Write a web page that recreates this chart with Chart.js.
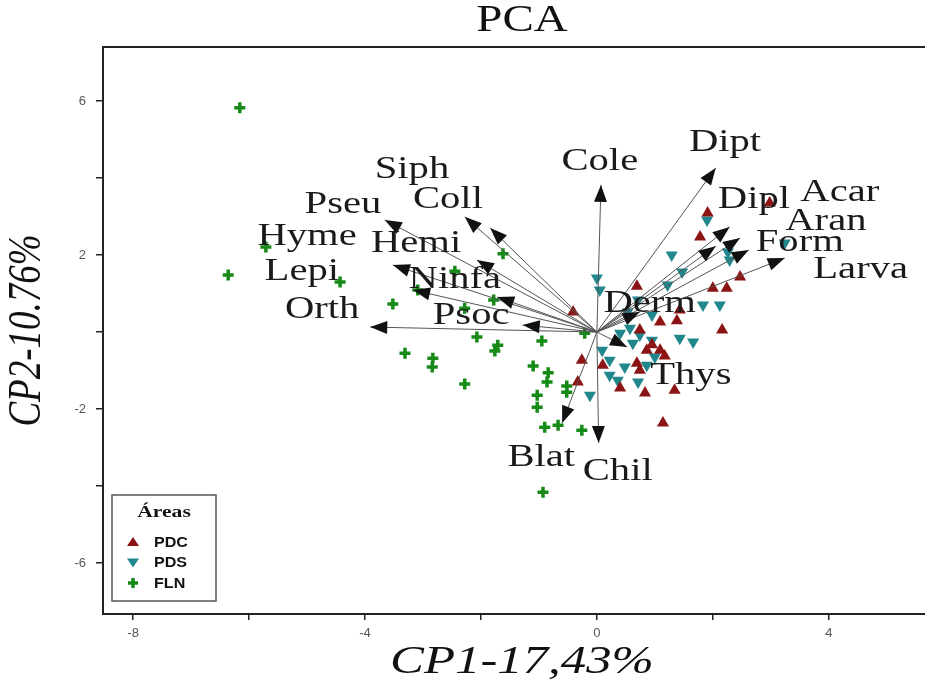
<!DOCTYPE html>
<html>
<head>
<meta charset="utf-8">
<script src="https://cdn.jsdelivr.net/npm/chart.js@4.4.1/dist/chart.umd.min.js"></script>
<style>
    html, body { margin: 0; padding: 0; background: #fff; }
</style>
</head>
<body>
<canvas id="graphique-pca" width="925" height="685"></canvas>
<script>
// Groupes (aires)
const areas = ["PDC", "PDS", "FLN"]

// Scores des échantillons
const pdcX = [-0.41, 0.69, 2.00, 2.24, 1.38, 2.16, 1.09, 0.74, 0.86, 1.09, 1.17, -0.26, 0.10, -0.33, 0.40, 0.83, 1.34, 0.69, 1.14, 2.98, 1.91, 1.78, 2.47, 1.43, 0.74, 0.95]
const pdcY = [0.52, 1.19, 1.14, 1.14, 0.29, 0.05, 0.26, 0.05, -0.47, -0.47, -0.62, -0.73, -0.86, -1.30, -1.45, -1.58, -1.51, -0.81, -2.36, 3.35, 3.09, 2.47, 1.43, 0.57, -0.99, -0.33]

const pdsX = [0.00, 0.05, 1.22, 1.83, 2.12, 0.95, 0.57, 0.40, 0.09, 0.22, 0.48, 0.62, 0.74, 0.95, 1.43, 1.66, 0.22, 0.36, 0.71, -0.12, 0.53, 1.00, 0.86, 1.90, 1.29, 1.47, 2.26, 2.29, 3.24, 0.71]
const pdsY = [1.40, 1.09, 1.22, 0.70, 0.70, 0.44, 0.10, -0.03, -0.47, -0.73, -0.91, -0.29, -0.08, -0.21, -0.16, -0.26, -1.12, -1.25, -1.30, -1.64, 0.52, -0.65, -0.86, 2.91, 2.00, 1.56, 2.08, 1.87, 2.31, 0.83]

const flnX = [-6.16, -5.71, -6.36, -4.43, -3.52, -3.31, -2.45, -1.62, -3.09, -2.28, -1.78, -2.07, -1.71, -1.76, -0.95, -2.83, -2.84, -2.28, -1.10, -0.84, -0.86, -0.52, -0.52, -1.03, -1.03, -0.21, -0.90, -0.67, -0.26, -0.93]
const flnY = [5.82, 2.21, 1.48, 1.30, 0.73, -0.55, 1.58, 2.03, 1.09, 0.62, 0.83, -0.13, -0.34, -0.49, -0.23, -0.68, -0.91, -1.35, -0.88, -1.06, -1.30, -1.40, -1.56, -1.64, -1.95, -0.03, -2.47, -2.42, -2.55, -4.16]

// Vecteurs des variables (taxons)
const variables = ["Siph", "Pseu", "Coll", "Hyme", "Hemi", "Lepi", "Ninfa", "Orth", "Psoc", "Cole", "Dipt", "Dipl", "Acar", "Aran", "Form", "Larva", "Derm", "Thys", "Blat", "Chil"]
const arrowX = [-2.28, -3.66, -1.84, -3.52, -2.07, -3.17, -1.72, -3.91, -1.28, 0.07, 2.05, 2.29, 2.47, 2.05, 2.62, 3.24, 0.74, 0.52, -0.60, 0.03]
const arrowY = [2.99, 2.91, 2.70, 1.74, 1.87, 1.09, 0.91, 0.13, 0.18, 3.82, 4.26, 2.73, 2.44, 2.23, 2.13, 1.92, 0.52, -0.39, -2.36, -2.88]
const labelX = [-3.19, -4.38, -2.57, -5.00, -3.12, -5.09, -2.45, -4.74, -2.17, 0.05, 2.21, 2.71, 4.19, 3.95, 3.50, 4.55, 0.91, 1.62, -0.96, 0.36]
const labelY = [4.21, 3.30, 3.43, 2.47, 2.29, 1.56, 1.35, 0.57, 0.42, 4.42, 4.91, 3.45, 3.61, 2.88, 2.31, 1.61, 0.73, -1.12, -3.25, -3.61]

// Ticks affichés
const xTickLabels = [-8, -4, 0, 4]
const yTickLabels = [-6, -2, 2, 6]

const colors = { PDC: "#8c1414", PDS: "#20878c", FLN: "#168a16" }
const stretch = 1.27

function pts(xs, ys) {
    return xs.map((v, i) => ({ x: v, y: ys[i] }))
}

function drawText(ctx, text, x, y, font, sx, sy, rot) {
    ctx.save()
    ctx.translate(x, y)
    if (rot) ctx.rotate(rot)
    ctx.scale(sx, sy)
    ctx.font = font
    ctx.fillText(text, 0, 0)
    ctx.restore()
}

// Flèches, étiquettes, titres et légende
const biplot = {
    id: "biplot",
    beforeDatasetsDraw(chart) {
        const { ctx, chartArea } = chart
        ctx.save()
        ctx.strokeStyle = "#222"
        ctx.lineWidth = 2
        ctx.beginPath()
        ctx.moveTo(chartArea.left - 1, chartArea.top)
        ctx.lineTo(chartArea.right, chartArea.top)
        ctx.stroke()
        ctx.restore()
    },
    afterDatasetsDraw(chart) {
        const { ctx, scales: { x, y } } = chart
        const x0 = x.getPixelForValue(0), y0 = y.getPixelForValue(0)
        ctx.save()
        ctx.fillStyle = "#111"
        variables.forEach((v, i) => {
            const px = x.getPixelForValue(arrowX[i]), py = y.getPixelForValue(arrowY[i])
            const a = Math.atan2(py - y0, px - x0)
            const len = 17, half = 6.5
            ctx.beginPath()
            ctx.moveTo(px, py)
            ctx.lineTo(px - len * Math.cos(a) + half * Math.sin(a), py - len * Math.sin(a) - half * Math.cos(a))
            ctx.lineTo(px - len * Math.cos(a) - half * Math.sin(a), py - len * Math.sin(a) + half * Math.cos(a))
            ctx.closePath()
            ctx.fill()
        })
        ctx.fillStyle = "#1a1a1a"
        ctx.textAlign = "center"
        ctx.textBaseline = "middle"
        variables.forEach((v, i) => {
            drawText(ctx, v, x.getPixelForValue(labelX[i]), y.getPixelForValue(labelY[i]),
                '32px "Liberation Serif"', stretch, 1, 0)
        })
        ctx.restore()
    },
    afterDraw(chart) {
        const { ctx, chartArea } = chart
        const cx = (chartArea.left + chartArea.right) / 2 + 8
        ctx.save()
        ctx.fillStyle = "#111"
        ctx.textAlign = "center"
        ctx.textBaseline = "middle"
        // Titre
        drawText(ctx, "PCA", cx, 21, '37px "Liberation Serif"', stretch, 1, 0)
        // Titres des axes
        drawText(ctx, "CP1-17,43%", cx, 662, 'italic 40px "Liberation Serif"', stretch, 1, 0)
        drawText(ctx, "CP2-10.76%", 28, (chartArea.top + chartArea.bottom) / 2, 'italic 37px "Liberation Serif"', 1, stretch, -Math.PI / 2)

        // Légende
        const bx = chartArea.left + 9, by = chartArea.bottom - 119, bw = 104, bh = 106
        ctx.fillStyle = "#fff"
        ctx.fillRect(bx, by, bw, bh)
        ctx.strokeStyle = "#555"
        ctx.lineWidth = 1.5
        ctx.strokeRect(bx, by, bw, bh)
        ctx.fillStyle = "#111"
        drawText(ctx, "Áreas", bx + bw / 2, by + 18, 'bold 17px "Liberation Serif"', stretch, 1, 0)
        ctx.textAlign = "left"
        areas.forEach((name, i) => {
            const sy = by + 47 + i * 20.5, sx = bx + 21
            ctx.fillStyle = colors[name]
            ctx.strokeStyle = colors[name]
            if (name === "FLN") {
                ctx.lineWidth = 3.5
                ctx.beginPath()
                ctx.moveTo(sx - 5, sy); ctx.lineTo(sx + 5, sy)
                ctx.moveTo(sx, sy - 5); ctx.lineTo(sx, sy + 5)
                ctx.stroke()
            } else {
                const d = name === "PDC" ? 1 : -1
                ctx.beginPath()
                ctx.moveTo(sx, sy - 5 * d)
                ctx.lineTo(sx + 6, sy + 4 * d)
                ctx.lineTo(sx - 6, sy + 4 * d)
                ctx.closePath()
                ctx.fill()
            }
            ctx.fillStyle = "#111"
            drawText(ctx, name, bx + 42, sy + 1, 'bold 14px "Liberation Sans"', 1.15, 1, 0)
        })
        ctx.restore()
    }
}

const arrowSets = variables.map((v, i) => ({
    label: v,
    data: [{ x: 0, y: 0 }, { x: arrowX[i], y: arrowY[i] }],
    showLine: true,
    borderColor: "#555",
    borderWidth: 1,
    pointRadius: 0,
    order: 1
}))

const data = {
    datasets: [
        {
            label: "PDC",
            data: pts(pdcX, pdcY),
            pointStyle: "triangle",
            pointRadius: 7,
            backgroundColor: colors.PDC,
            borderColor: colors.PDC,
            borderWidth: 0,
            order: 2
        },
        {
            label: "PDS",
            data: pts(pdsX, pdsY),
            pointStyle: "triangle",
            rotation: 180,
            pointRadius: 7,
            backgroundColor: colors.PDS,
            borderColor: colors.PDS,
            borderWidth: 0,
            order: 2
        },
        {
            label: "FLN",
            data: pts(flnX, flnY),
            pointStyle: "cross",
            pointRadius: 5.5,
            borderColor: colors.FLN,
            borderWidth: 3.5,
            order: 2
        },
        ...arrowSets
    ]
}

const config = {
    type: "scatter",
    data: data,
    options: {
        responsive: false,
        animation: false,
        devicePixelRatio: 1,
        layout: { autoPadding: false, padding: { top: 47, left: 0, right: 0, bottom: 0 } },
        plugins: {
            legend: { display: false },
            tooltip: { enabled: false },
            title: { display: false }
        },
        scales: {
            x: {
                type: "linear",
                min: -8.52,
                max: 5.66,
                afterFit: scale => {
                    scale.height = 71
                    scale.paddingLeft = 0
                    scale.paddingRight = 0
                },
                border: { color: "#222", width: 2 },
                grid: { drawOnChartArea: false, color: "#222", lineWidth: 1.5, tickLength: 6 },
                ticks: {
                    stepSize: 2,
                    includeBounds: false,
                    maxRotation: 0,
                    autoSkip: false,
                    padding: 6,
                    color: "#555",
                    font: { family: "Liberation Sans", size: 13 },
                    callback: v => xTickLabels.includes(v) ? String(v) : ""
                }
            },
            y: {
                type: "linear",
                min: -7.32,
                max: 7.40,
                afterFit: scale => {
                    scale.width = 103
                    scale.paddingTop = 0
                    scale.paddingBottom = 0
                },
                border: { color: "#222", width: 2 },
                grid: { drawOnChartArea: false, color: "#222", lineWidth: 1.5, tickLength: 7 },
                ticks: {
                    stepSize: 2,
                    includeBounds: false,
                    autoSkip: false,
                    padding: 10,
                    color: "#555",
                    font: { family: "Liberation Sans", size: 13 },
                    callback: v => yTickLabels.includes(v) ? String(v) : ""
                }
            }
        }
    },
    plugins: [biplot]
}

new Chart(document.querySelector("#graphique-pca"), config)
</script>
</body>
</html>
